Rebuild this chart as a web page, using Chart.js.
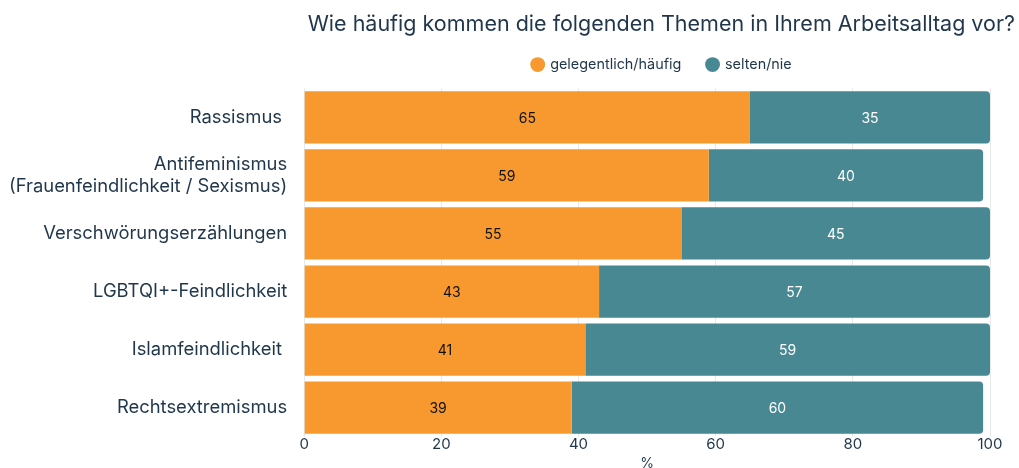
<!DOCTYPE html>
<html lang="de">
<head>
<meta charset="utf-8">
<title>Themen im Arbeitsalltag</title>
<script src="https://cdn.jsdelivr.net/npm/chart.js@4"></script>
<style>
    html, body { margin: 0; padding: 0; background: #ffffff; }
    #wrap { width: 1019px; height: 468px; position: relative; }
</style>
</head>
<body>
<div id="wrap"><canvas id="themenChart"></canvas></div>
<script>
const categories = [
    "Rassismus ",
    ["Antifeminismus", "(Frauenfeindlichkeit / Sexismus)"],
    "Verschwörungserzählungen",
    "LGBTQI+-Feindlichkeit",
    "Islamfeindlichkeit ",
    "Rechtsextremismus"
];
const gelegentlich = [65, 59, 55, 43, 41, 39];
const selten = [35, 40, 45, 57, 59, 60];
const xTicks = [0, 20, 40, 60, 80, 100];

const textColor = '#1f364b';

// draws the numbers in the middle of each bar segment
const segmentLabels = {
    id: 'segmentLabels',
    afterDatasetsDraw(chart) {
        const ctx = chart.ctx;
        ctx.save();
        ctx.font = '14px Inter';
        ctx.textAlign = 'center';
        ctx.textBaseline = 'middle';
        chart.data.datasets.forEach((ds, i) => {
            const meta = chart.getDatasetMeta(i);
            meta.data.forEach((bar, j) => {
                const p = bar.getProps(['x', 'y', 'base'], true);
                ctx.fillStyle = i === 0 ? '#111111' : '#ffffff';
                ctx.fillText(ds.data[j], (p.x + p.base) / 2, p.y + 1);
            });
        });
        ctx.restore();
    }
};

// legend sits a bit right of the plot centre in the original
const legendShift = {
    id: 'legendShift',
    afterLayout(chart) {
        chart.legend.left += 15;
        chart.legend.right += 15;
    }
};

document.addEventListener("DOMContentLoaded", () => {
    const ctx = document.getElementById('themenChart');

    const data = {
        labels: categories,
        datasets: [{
            label: 'gelegentlich/häufig',
            data: gelegentlich,
            backgroundColor: '#f7992e',
            borderRadius: 4,
            barPercentage: 0.9,
            categoryPercentage: 1
        }, {
            label: 'selten/nie',
            data: selten,
            backgroundColor: '#478892',
            borderRadius: 4,
            barPercentage: 0.9,
            categoryPercentage: 1
        }]
    };

    const config = {
        type: 'bar',
        data: data,
        plugins: [segmentLabels, legendShift],
        options: {
            indexAxis: 'y',
            responsive: true,
            maintainAspectRatio: false,
            animation: false,
            layout: { padding: { right: 4, bottom: 0 } },
            plugins: {
                title: {
                    display: true,
                    text: 'Wie häufig kommen die folgenden Themen in Ihrem Arbeitsalltag vor?',
                    align: 'end',
                    color: textColor,
                    font: { family: 'Inter', size: 21.5, weight: 'normal', lineHeight: 0.6 },
                    padding: { top: 18.5, bottom: 0 }
                },
                // empty spacer between legend and plot
                subtitle: {
                    display: true,
                    text: '',
                    weight: 500,
                    fullSize: false,
                    font: { size: 6.6, lineHeight: 1 },
                    padding: 0
                },
                legend: {
                    fullSize: false,
                    labels: {
                        usePointStyle: true,
                        pointStyle: 'circle',
                        boxWidth: 10.5,
                        boxHeight: 10.5,
                        padding: 26,
                        color: textColor,
                        font: { family: 'Inter', size: 14.4 }
                    }
                },
                tooltip: { enabled: false }
            },
            scales: {
                x: {
                    stacked: true,
                    min: 0,
                    max: 100,
                    afterBuildTicks: axis => {
                        axis.ticks = xTicks.map(v => ({ value: v }));
                    },
                    afterFit: axis => {
                        axis.paddingRight = 29;
                    },
                    grid: { color: '#e6e8ea', drawTicks: false },
                    border: { display: false },
                    ticks: {
                        padding: -1,
                        color: textColor,
                        font: { family: 'Inter', size: 15 }
                    },
                    title: {
                        display: true,
                        text: '%',
                        color: textColor,
                        font: { family: 'Inter', size: 14, lineHeight: 0.6 },
                        padding: { top: 7, bottom: 0 }
                    }
                },
                y: {
                    stacked: true,
                    grid: { display: false },
                    border: { display: false },
                    ticks: {
                        padding: 9,
                        color: textColor,
                        font: { family: 'Inter', size: 18.4, lineHeight: 1.22 }
                    }
                }
            }
        }
    };

    new Chart(ctx, config);
});
</script>
</body>
</html>
